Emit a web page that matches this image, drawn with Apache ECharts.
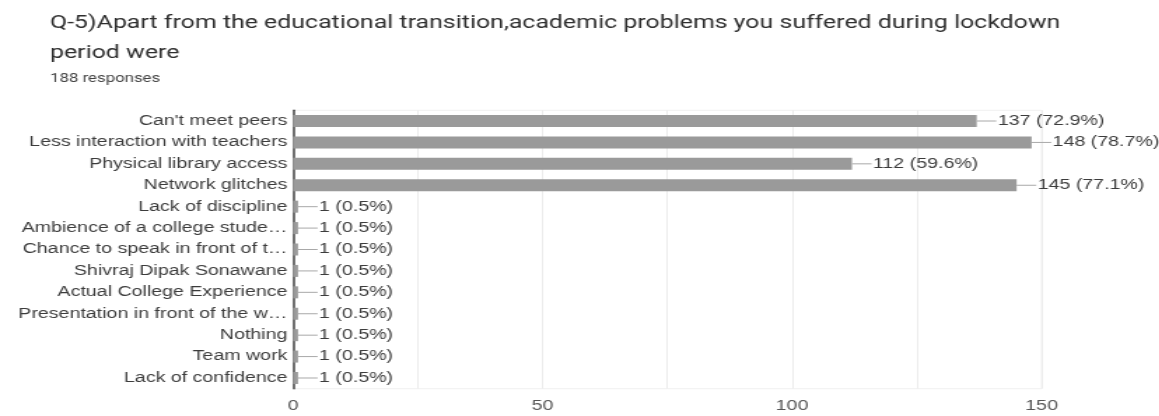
<!DOCTYPE html>
<html>
<head>
<meta charset="utf-8">
<title>Q-5 academic problems</title>
<script src="https://cdn.jsdelivr.net/npm/echarts@6/dist/echarts.min.js"></script>
<style>
  html, body { margin: 0; padding: 0; background: #fff; overflow: hidden; }
  #wrap { width: 1159px; height: 416px; overflow: hidden; }
  /* the source screenshot is stretched sideways, so the chart is drawn narrow and widened */
  #chart { width: 828px; height: 416px; transform: scaleX(1.4); transform-origin: 0 0; }
</style>
</head>
<body>
<div id="wrap"><div id="chart"></div></div>
<script>
var categories = [
  "Can't meet peers",
  "Less interaction with teachers",
  "Physical library access",
  "Network glitches",
  "Lack of discipline",
  "Ambience of a college stude…",
  "Chance to speak in front of t…",
  "Shivraj Dipak Sonawane",
  "Actual College Experience",
  "Presentation in front of the w…",
  "Nothing",
  "Team work",
  "Lack of confidence"
];
var counts = [137, 148, 112, 145, 1, 1, 1, 1, 1, 1, 1, 1, 1];
var percents = ["72.9", "78.7", "59.6", "77.1", "0.5", "0.5", "0.5", "0.5", "0.5", "0.5", "0.5", "0.5", "0.5"];
var xTicks = [0, 50, 100, 150];

var theme = {
  fontColor: "#3c3c3c",
  barColor: "#9a9a9a"
};

var option = {
  animation: false,
  title: [
    {
      text: "Q-5)Apart from the educational transition,academic problems you suffered during lockdown\nperiod were",
      left: 30.7,
      top: 4,
      textStyle: {
        fontFamily: "Roboto",
        fontSize: 17.8,
        fontWeight: "normal",
        lineHeight: 30,
        color: "#2e2e2e"
      }
    },
    {
      text: "188 responses",
      left: 30.7,
      top: 68,
      textStyle: {
        fontFamily: "Roboto",
        fontSize: 12,
        fontWeight: "normal",
        color: "#444"
      }
    }
  ],
  grid: { left: 209.3, right: 84, top: 110.3, bottom: 27.3, show: true, borderColor: "#f0f0f0", borderWidth: 1 },
  xAxis: {
    type: "value",
    min: xTicks[0],
    max: xTicks[xTicks.length - 1],
    interval: 25,
    axisLine: { show: false },
    axisTick: { show: false },
    splitLine: { lineStyle: { color: "#ececec", width: 1 } },
    axisLabel: {
      margin: 10,
      fontFamily: "Liberation Sans",
      fontSize: 14,
      color: "#555",
      formatter: function (v) {
        return xTicks.indexOf(v) >= 0 ? String(v) : "";
      }
    }
  },
  yAxis: {
    type: "category",
    inverse: true,
    data: categories,
    axisLine: { lineStyle: { color: "#444", width: 1.5 } },
    axisTick: { show: false },
    axisLabel: {
      margin: 4,
      fontFamily: "Liberation Sans",
      fontSize: 14,
      color: theme.fontColor
    }
  },
  series: [
    {
      type: "bar",
      barWidth: 12,
      data: counts,
      itemStyle: { color: theme.barColor },
      label: {
        show: true,
        position: "right",
        distance: 0,
        formatter: function (p) {
          return "{l| }{t|" + p.value + " (" + percents[p.dataIndex] + "%)}";
        },
        rich: {
          l: { width: 14, height: 1, backgroundColor: "#a8a8a8" },
          t: {
            fontFamily: "Liberation Sans",
            fontSize: 14,
            color: theme.fontColor,
            padding: [0, 0, 0, 1]
          }
        }
      }
    }
  ]
};

var myChart = echarts.init(document.getElementById("chart"));
myChart.setOption(option);
</script>
</body>
</html>
